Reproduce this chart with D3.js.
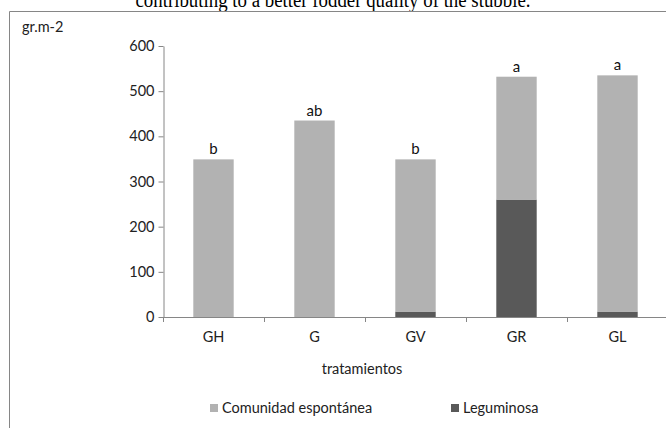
<!DOCTYPE html>
<html><head><meta charset="utf-8">
<script src="https://cdn.jsdelivr.net/npm/d3@7"></script>
<style>body{margin:0;background:#fff;} svg{display:block;}</style>
</head><body>
<svg id="c" width="666" height="428"></svg>
<script>
const categories = ["GH","G","GV","GR","GL"];
const comunidad = [349, 435, 337, 272, 523];
const leguminosa = [0, 0, 12, 260, 12];
const letters = ["b","ab","b","a","a"];
const yTicks = [0,100,200,300,400,500,600];
const seriesNames = ["Comunidad espontánea","Leguminosa"];
const colors = ["#b2b2b2","#595959"];

const svg = d3.select("#c");
const F = "Lato, 'Open Sans', sans-serif";
const FS = 14.5;

// caption above (clipped in the reference too)
svg.append("text").attr("x",333).attr("y",7).attr("text-anchor","middle")
  .attr("font-family","'Liberation Serif', serif").attr("font-size",20)
  .attr("textLength",395).attr("lengthAdjust","spacingAndGlyphs")
  .attr("fill","#000").text("contributing to a better fodder quality of the stubble.");

// frame
svg.append("path").attr("d","M9.5,428 V11.5 H666").attr("fill","none").attr("stroke","#868686").attr("stroke-width",1);

const x = d3.scaleBand().domain(categories).range([163,668]).paddingInner(0.6).paddingOuter(0.3);
const y = d3.scaleLinear().domain([0,600]).range([317,46]);

// y axis
const ya = svg.append("g").attr("transform","translate(163.5,0)")
  .call(d3.axisLeft(y).tickValues(yTicks).tickSize(5).tickSizeOuter(0).tickPadding(4));
ya.select(".domain").attr("stroke","#868686");
ya.selectAll(".tick line").attr("stroke","#868686");
ya.selectAll("text").attr("font-family",F).attr("font-size",FS).attr("fill","#222");

// bars
const stack = d3.stack().keys([0,1]).value((d,k)=> k===0 ? leguminosa[d] : comunidad[d]);
const layers = stack(d3.range(categories.length));
const layerColor = [colors[1], colors[0]];
layers.forEach((layer,li)=>{
  svg.append("g").selectAll("rect").data(layer).join("rect")
    .attr("x",(d,i)=>x(categories[i]))
    .attr("width",x.bandwidth())
    .attr("y",d=>y(d[1]))
    .attr("height",d=>y(d[0])-y(d[1]))
    .attr("fill",layerColor[li]);
});

// x axis
const xb = d3.scaleLinear().domain([0,5]).range([163,668]);
svg.append("line").attr("x1",163).attr("x2",666).attr("y1",317.5).attr("y2",317.5).attr("stroke","#868686");
svg.append("g").selectAll("line").data(d3.range(0,5)).join("line")
  .attr("x1",d=>Math.round(xb(d))+0.5).attr("x2",d=>Math.round(xb(d))+0.5)
  .attr("y1",317).attr("y2",322).attr("stroke","#868686");
svg.append("g").selectAll("text").data(categories).join("text")
  .attr("x",d=>x(d)+x.bandwidth()/2).attr("y",342).attr("text-anchor","middle")
  .attr("font-family",F).attr("font-size",FS).attr("fill","#222").text(d=>d);

// letters
svg.append("g").selectAll("text").data(categories).join("text")
  .attr("x",d=>x(d)+x.bandwidth()/2)
  .attr("y",(d,i)=>y(comunidad[i]+leguminosa[i])-5)
  .attr("text-anchor","middle").attr("font-family",F).attr("font-size",15).attr("fill","#111")
  .text((d,i)=>letters[i]);

// axis titles
svg.append("text").attr("x",22).attr("y",32).attr("font-family",F).attr("font-size",FS).attr("fill","#222").text("gr.m-2");
svg.append("text").attr("x",362).attr("y",374).attr("text-anchor","middle").attr("font-family",F).attr("font-size",FS).attr("fill","#222").text("tratamientos");

// legend
const legX = [210, 451];
const lg = svg.append("g").selectAll("g").data(seriesNames).join("g")
  .attr("transform",(d,i)=>`translate(${legX[i]},0)`);
lg.append("rect").attr("x",0).attr("y",404).attr("width",8).attr("height",8).attr("fill",(d,i)=>colors[i]);
lg.append("text").attr("x",12).attr("y",413).attr("font-family",F).attr("font-size",FS).attr("fill","#222").text(d=>d);
</script>
</body></html>
